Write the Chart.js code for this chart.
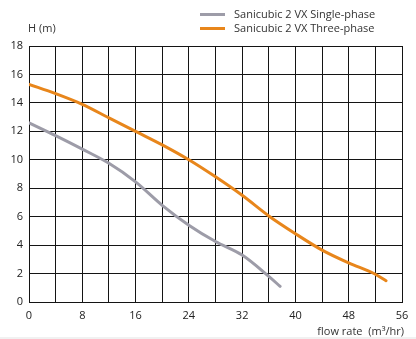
<!DOCTYPE html>
<html>
<head>
<meta charset="utf-8">
<script src="https://cdn.jsdelivr.net/npm/chart.js@4/dist/chart.umd.min.js"></script>
<style>
    body { margin: 0; background: #f1f1f1; font-family: "Open Sans", sans-serif; }
    #wrap { position: relative; width: 416px; height: 337px; background: #fff; overflow: hidden; }
    #wrap canvas { position: absolute; left: 0; top: 0; }
    .lbl { position: absolute; font-size: 11px; color: #333; white-space: nowrap; line-height: 13px; }
    .swatch { position: absolute; width: 25px; height: 3px; }
    #status { position: absolute; left: 40px; top: 60px; font-size: 10px; color: transparent; }
</style>
</head>
<body>
<div id="wrap">
    <canvas id="pumpchart" width="416" height="337"></canvas>
    <div class="swatch" style="left:200px; top:13px; background:#9d9ca8;"></div>
    <div class="lbl" style="left:234px; top:7px;">Sanicubic 2 VX Single-phase</div>
    <div class="swatch" style="left:200px; top:27px; background:#e8861b;"></div>
    <div class="lbl" style="left:234px; top:21px;">Sanicubic 2 VX Three-phase</div>
    <div class="lbl" style="left:28px; top:21px;">H (m)</div>
    <div class="lbl" style="right:12px; top:324px;">flow rate&nbsp; (m³/hr)</div>
    <div id="status"></div>
</div>
<script>
// flow rate (m3/hr) and head (m)
const flowSingle = [0, 4, 8, 12, 16, 20, 24, 28, 32, 36, 37.7];
const headSingle = [12.6, 11.7, 10.75, 9.75, 8.45, 6.8, 5.4, 4.25, 3.3, 1.8, 1.1];
const flowThree = [0, 4, 8, 12, 16, 20, 24, 28, 32, 36, 40, 44, 48, 52, 53.6];
const headThree = [15.3, 14.65, 13.9, 12.95, 12.0, 11.05, 10.0, 8.8, 7.5, 6.05, 4.8, 3.65, 2.75, 1.95, 1.5];
const xTicks = [0, 8, 16, 24, 32, 40, 48, 56];
const yTicks = [0, 2, 4, 6, 8, 10, 12, 14, 16, 18];

function toPoints(xs, ys) {
    return xs.map(function (x, i) { return { x: x, y: ys[i] }; });
}

var ctx = document.getElementById('pumpchart').getContext('2d');
var pumpchart = new Chart(ctx, {
    type: 'line',
    data: {
        datasets: [
            {
                label: 'Sanicubic 2 VX Single-phase',
                data: toPoints(flowSingle, headSingle),
                borderColor: '#9d9ca8',
                borderWidth: 3,
                borderCapStyle: 'round',
                pointRadius: 0,
                cubicInterpolationMode: 'monotone'
            },
            {
                label: 'Sanicubic 2 VX Three-phase',
                data: toPoints(flowThree, headThree),
                borderColor: '#e8861b',
                borderWidth: 3,
                borderCapStyle: 'round',
                pointRadius: 0,
                cubicInterpolationMode: 'monotone'
            }
        ]
    },
    options: {
        responsive: false,
        animation: false,
        layout: { padding: { top: 46, right: 14, left: 0, bottom: 0 } },
        plugins: { legend: { display: false }, tooltip: { enabled: false } },
        scales: {
            x: {
                type: 'linear',
                min: 0,
                max: 56,
                ticks: {
                    stepSize: 4,
                    padding: 7,
                    color: '#222',
                    font: { family: 'Open Sans', size: 11 },
                    callback: function (v) { return xTicks.includes(v) ? String(v) : ''; }
                },
                grid: { display: true, drawOnChartArea: true, color: 'rgba(20,20,20,1)', lineWidth: 1, drawTicks: false },
                border: { display: true, color: 'rgba(20,20,20,1)', width: 1 },
                afterFit: function (scale) { scale.height = 35; }
            },
            y: {
                min: 0,
                max: 18,
                ticks: {
                    stepSize: 2,
                    padding: 6,
                    color: '#222',
                    font: { family: 'Open Sans', size: 11 },
                    callback: function (v) { return yTicks.includes(v) ? String(v) : ''; }
                },
                grid: { display: true, drawOnChartArea: true, color: 'rgba(20,20,20,1)', lineWidth: 1, drawTicks: false },
                border: { display: true, color: 'rgba(20,20,20,1)', width: 1 },
                afterFit: function (scale) { scale.width = 29; }
            }
        }
    }
});
var g = pumpchart.scales.x.options.grid;
document.getElementById('status').textContent = 'v' + Chart.version + ' disp=' + g.display + ' lw=' + g.lineWidth + ' col=' + g.color +
    ' area=' + JSON.stringify(pumpchart.chartArea) + ' items=' + (pumpchart.scales.x._gridLineItems ? pumpchart.scales.x._gridLineItems.length : 'none');
</script>
</body>
</html>
